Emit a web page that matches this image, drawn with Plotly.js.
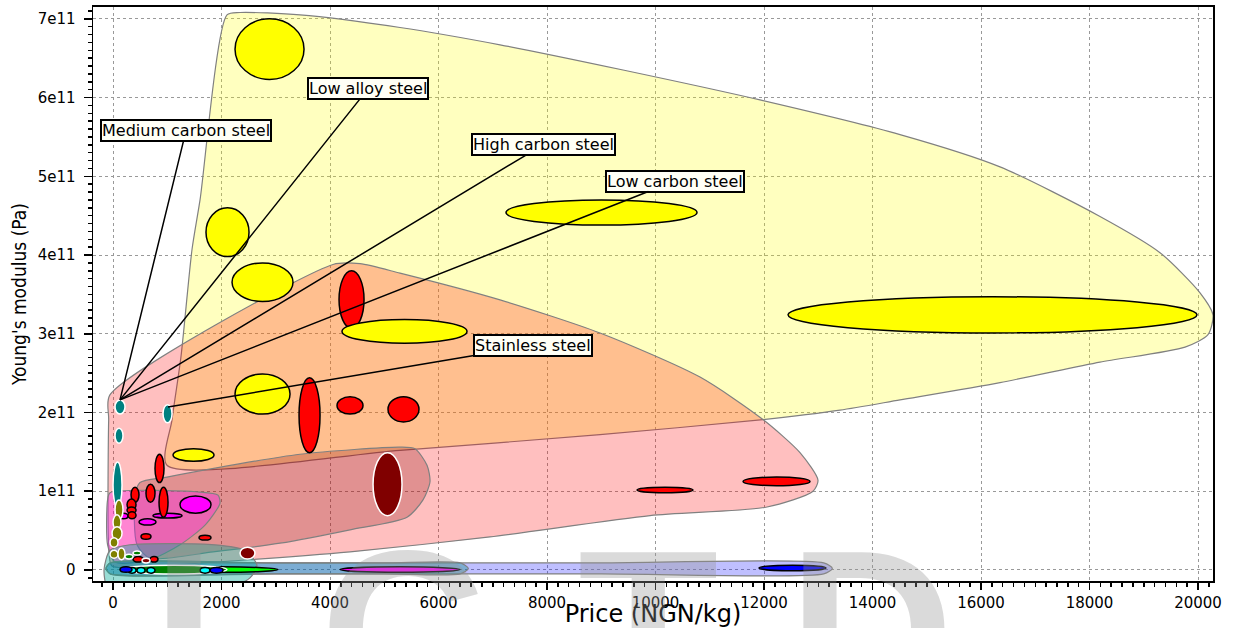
<!DOCTYPE html>
<html>
<head>
<meta charset="utf-8">
<script src="https://cdn.plot.ly/plotly-3.0.1.min.js"></script>
<style>html,body{margin:0;padding:0;background:#fff;}#chart{width:1240px;height:628px;}</style>
</head>
<body>
<div id="chart"></div>
<script>
const GPA = 1e9;

// Axis tick labels
const xTickVals = [0, 2000, 4000, 6000, 8000, 10000, 12000, 14000, 16000, 18000, 20000];
const xTickText = ['0', '2000', '4000', '6000', '8000', '10000', '12000', '14000', '16000', '18000', '20000'];
const yTickVals = [0, 1e11, 2e11, 3e11, 4e11, 5e11, 6e11, 7e11];
const yTickText = ['0', '1e11', '2e11', '3e11', '4e11', '5e11', '6e11', '7e11'];

// Envelopes (price NGN/kg, Young's modulus GPa)
const yellowEnvPrice = [2101, 2341, 3447, 5290, 7134, 9401, 11926, 14507, 16350, 18193, 19299, 20037, 20276, 20184, 19760, 18193, 16350, 14507, 13401, 11981, 8977, 5290, 995, 1088, 1253, 1456, 1604];
const yellowEnvMod = [705, 708, 705, 689, 667, 635, 597, 553, 512, 449, 403, 352, 324, 299, 283, 264, 238, 216, 203, 191, 172, 152, 133, 191, 271, 407, 470];

const pinkEnvPrice = [-60, 4055, 4553, 5290, 7134, 8977, 10820, 11981, 12663, 12995, 12903, 12055, 9899, 6949, 4369, 2525, 682, -20, -80, -80];
const pinkEnvMod = [222, 388, 389, 377, 343, 301, 245, 191, 149, 114, 100, 80, 69, 42, 23, 13, 5, 5, 32, 191];

const brownEnvPrice = [498, 995, 3447, 5290, 5567, 5788, 5843, 5714, 5419, 4369, 3078, 1843, 682, 442, 406];
const brownEnvMod = [111, 118, 147, 156, 154, 133, 112, 89, 67, 51, 34, 23, 15, 32, 95];

const magentaEnvPrice = [-55, 1604, 1935, 1972, 1696, 1235, 682, 37, -100, -100];
const magentaEnvMod = [98, 99, 95, 85, 57, 32, 13, 10, 32, 89];

const tealEnvPrice = [-55, 313, 1880, 2433, 2654, 2525, 2064, 682, -92, -166];
const tealEnvMod = [25, 32, 32, 25, 6, -10, -25, -28, -23, 0];

const blueBarPrice = [-50, 3000, 9000, 13100, 13260, 13100, 9000, 3000, -50, -130];
const blueBarMod = [9, 9, 9, 9, 2, -5, -5, -5, -5, 2];

const cyanBarPrice = [-50, 2000, 5000, 6400, 6550, 6400, 5000, 2000, -50, -130];
const cyanBarMod = [9, 9, 9, 9, 2, -5, -5, -5, -5, 2];

// Material bubbles: price range (NGN/kg) and modulus range (GPa)
const yellowPriceLo = [2249, 1714, 2194, 2249, 1106, 4221, 7244, 12442];
const yellowPriceHi = [3521, 2507, 3318, 3263, 1862, 6525, 10765, 19981];
const yellowModLo = [623, 398, 341, 198, 138, 288, 438, 301];
const yellowModHi = [700, 460, 390, 249, 154, 318, 470, 347];

const redPriceLo = [4166, 3429, 4129, 5069, 9659, 11613, 774, 848, 608, 332, 258, 258, 276, 516, 1585, 369, 682];
const redPriceHi = [4627, 3816, 4608, 5640, 10691, 12848, 940, 1014, 774, 479, 424, 424, 424, 700, 1806, 553, 829];
const redModLo = [307, 149, 198, 188, 98, 107, 111, 67, 86, 86, 76, 72, 65, 39, 38, 10, 10];
const redModHi = [380, 244, 220, 220, 105, 118, 147, 105, 109, 105, 90, 80, 74, 46, 44, 17, 17];

const darkRedPriceLo = [4793, 2341, 535];
const darkRedPriceHi = [5327, 2617, 682];
const darkRedModLo = [69, 14, 9];
const darkRedModHi = [149, 29, 15];

const magentaPriceLo = [1235, 737, 479, 111, 4184];
const magentaPriceHi = [1806, 1272, 793, 276, 6396];
const magentaModLo = [72, 66, 57, 65, -3];
const magentaModHi = [94, 72, 65, 72, 4];

const tealPriceLo = [37, 37, 0, 922];
const tealPriceHi = [221, 184, 166, 1088];
const tealModLo = [198, 161, 79, 187];
const tealModHi = [216, 180, 137, 210];

const olivePriceLo = [37, 0, -18, -55, -55, 92];
const olivePriceHi = [184, 147, 166, 92, 92, 221];
const oliveModLo = [64, 51, 38, 29, 15, 13];
const oliveModHi = [89, 70, 55, 41, 25, 28];

const darkGreenPriceLo = [147, 221, 369];
const darkGreenPriceHi = [2100, 369, 516];
const darkGreenModLo = [-5, 14, 19];
const darkGreenModHi = [6, 20, 24];

const greenPriceLo = [1000];
const greenPriceHi = [3041];
const greenModLo = [-3];
const greenModHi = [4];

const cyanPriceLo = [442, 627, 1604, 276];
const cyanPriceHi = [590, 774, 1788, 424];
const cyanModLo = [-4, -4, -4, -4];
const cyanModHi = [3, 3, 3, 3];

const bluePriceLo = [11908, 1788, 129];
const bluePriceHi = [13143, 2028, 350];
const blueModLo = [-1, -4, -3];
const blueModHi = [6, 3, 4];

// Labels: text, label position, target position
const labelText = ['Medium carbon steel', 'Low alloy steel', 'High carbon steel', 'Low carbon steel', 'Stainless steel'];
const labelPrice = [1346, 4700, 7926, 10359, 7742];
const labelMod = [558, 611, 540, 494, 285];
const targetPrice = [129, 129, 129, 129, 1014];
const targetMod = [216, 216, 216, 216, 207];

// ---- build ----
const scale = a => a.map(v => v * GPA);
function envTrace(px, py, fill, lineColor) {
  return {
    x: px.concat([px[0]]), y: scale(py.concat([py[0]])),
    type: 'scatter', mode: 'lines', fill: 'toself', fillcolor: fill,
    line: {color: lineColor, width: 1.2, shape: 'spline', smoothing: 0.7},
    hoverinfo: 'skip', showlegend: false
  };
}
const traces = [
  envTrace(yellowEnvPrice, yellowEnvMod, 'rgba(255,255,0,0.25)', '#808080'),
  envTrace(pinkEnvPrice, pinkEnvMod, 'rgba(255,0,0,0.25)', '#808080'),
  envTrace(brownEnvPrice, brownEnvMod, 'rgba(128,0,0,0.24)', '#808080'),
  envTrace(magentaEnvPrice, magentaEnvMod, 'rgba(255,0,255,0.3)', '#808080'),
  envTrace(blueBarPrice, blueBarMod, 'rgba(0,0,255,0.25)', '#808080'),
  envTrace(cyanBarPrice, cyanBarMod, 'rgba(0,140,128,0.35)', '#808080'),
  envTrace(tealEnvPrice, tealEnvMod, 'rgba(0,170,150,0.4)', '#808080')
];

const shapes = [];
function addBubbles(lo, hi, mlo, mhi, fill, edge) {
  for (let i = 0; i < lo.length; i++) {
    shapes.push({type: 'circle', xref: 'x', yref: 'y', x0: lo[i], x1: hi[i],
      y0: mlo[i] * GPA, y1: mhi[i] * GPA, fillcolor: fill,
      line: {color: edge, width: 1.5}, layer: 'above'});
  }
}
addBubbles(magentaPriceLo, magentaPriceHi, magentaModLo, magentaModHi, '#ff00ff', '#000000');
addBubbles(redPriceLo, redPriceHi, redModLo, redModHi, '#ff0000', '#000000');
addBubbles(yellowPriceLo, yellowPriceHi, yellowModLo, yellowModHi, '#ffff00', '#000000');
addBubbles(darkRedPriceLo, darkRedPriceHi, darkRedModLo, darkRedModHi, '#800000', '#ffffff');
addBubbles(tealPriceLo, tealPriceHi, tealModLo, tealModHi, '#008080', '#ffffff');
addBubbles(olivePriceLo, olivePriceHi, oliveModLo, oliveModHi, '#808000', '#ffffff');
addBubbles(greenPriceLo, greenPriceHi, greenModLo, greenModHi, '#00ff00', '#000000');
addBubbles(darkGreenPriceLo, darkGreenPriceHi, darkGreenModLo, darkGreenModHi, '#008000', '#ffffff');
addBubbles(cyanPriceLo, cyanPriceHi, cyanModLo, cyanModHi, '#00ffff', '#000000');
addBubbles(bluePriceLo, bluePriceHi, blueModLo, blueModHi, '#0000ff', '#000000');

const annotations = labelText.map((t, i) => ({
  text: t, x: targetPrice[i], y: targetMod[i] * GPA, xref: 'x', yref: 'y',
  ax: labelPrice[i], ay: labelMod[i] * GPA, axref: 'x', ayref: 'y',
  showarrow: true, arrowhead: 0, arrowwidth: 1.5, arrowcolor: '#000',
  font: {family: 'DejaVu Sans, Verdana, sans-serif', size: 16, color: '#000'},
  bgcolor: '#fffff6', bordercolor: '#000', borderwidth: 2, borderpad: 0
}));

// watermark letters
const wmLetters = ['I', 'C', 'T', 'D'];
const wmPos = [0.081, 0.277, 0.496, 0.695];
wmLetters.forEach((l, i) => annotations.push({
  text: l, xref: 'paper', yref: 'paper', x: wmPos[i], y: 0.139, xanchor: 'center', yanchor: 'top',
  showarrow: false, font: {family: 'Liberation Sans, Arial, sans-serif', size: 230, color: 'rgba(150,150,150,0.35)', weight: 700}
}));

const axisFont = {family: 'DejaVu Sans, Verdana, sans-serif', size: 15, color: '#000'};
const layout = {
  width: 1240, height: 628,
  margin: {l: 93, r: 27, t: 7, b: 47},
  paper_bgcolor: '#fff', plot_bgcolor: '#fff',
  showlegend: false,
  xaxis: {
    range: [-369, 20276], tickmode: 'array', tickvals: xTickVals, ticktext: xTickText,
    ticks: 'outside', ticklen: 7, tickwidth: 1.5, tickcolor: '#000',
    minor: {tickmode: 'linear', tick0: 0, dtick: 200, ticks: 'outside', ticklen: 4, tickcolor: '#000', showgrid: false},
    showline: true, linecolor: '#000', linewidth: 2, mirror: true,
    showgrid: true, gridcolor: '#999', griddash: 'dot', gridwidth: 1, zeroline: false,
    tickfont: axisFont,
    title: {text: 'Price (NGN/kg)', font: {family: 'DejaVu Sans, Verdana, sans-serif', size: 24, color: '#000'}, standoff: 0}
  },
  yaxis: {
    range: [-14e9, 715e9], tickmode: 'array', tickvals: yTickVals, ticktext: yTickText,
    ticks: 'outside', ticklen: 8, tickwidth: 1.5, tickcolor: '#000', ticklabelstandoff: 5,
    minor: {tickmode: 'linear', tick0: 0, dtick: 1e10, ticks: 'outside', ticklen: 4, tickcolor: '#000', showgrid: false},
    showline: true, linecolor: '#000', linewidth: 1.5, mirror: true,
    showgrid: true, gridcolor: '#999', griddash: 'dot', gridwidth: 1, zeroline: false,
    tickfont: axisFont,
    title: {text: "Young's modulus (Pa)", font: {family: 'DejaVu Sans Condensed, DejaVu Sans, sans-serif', size: 19, color: '#000'}, standoff: 6}
  },
  shapes: shapes,
  annotations: annotations
};
Plotly.newPlot('chart', traces, layout, {staticPlot: true});
</script>
</body>
</html>
